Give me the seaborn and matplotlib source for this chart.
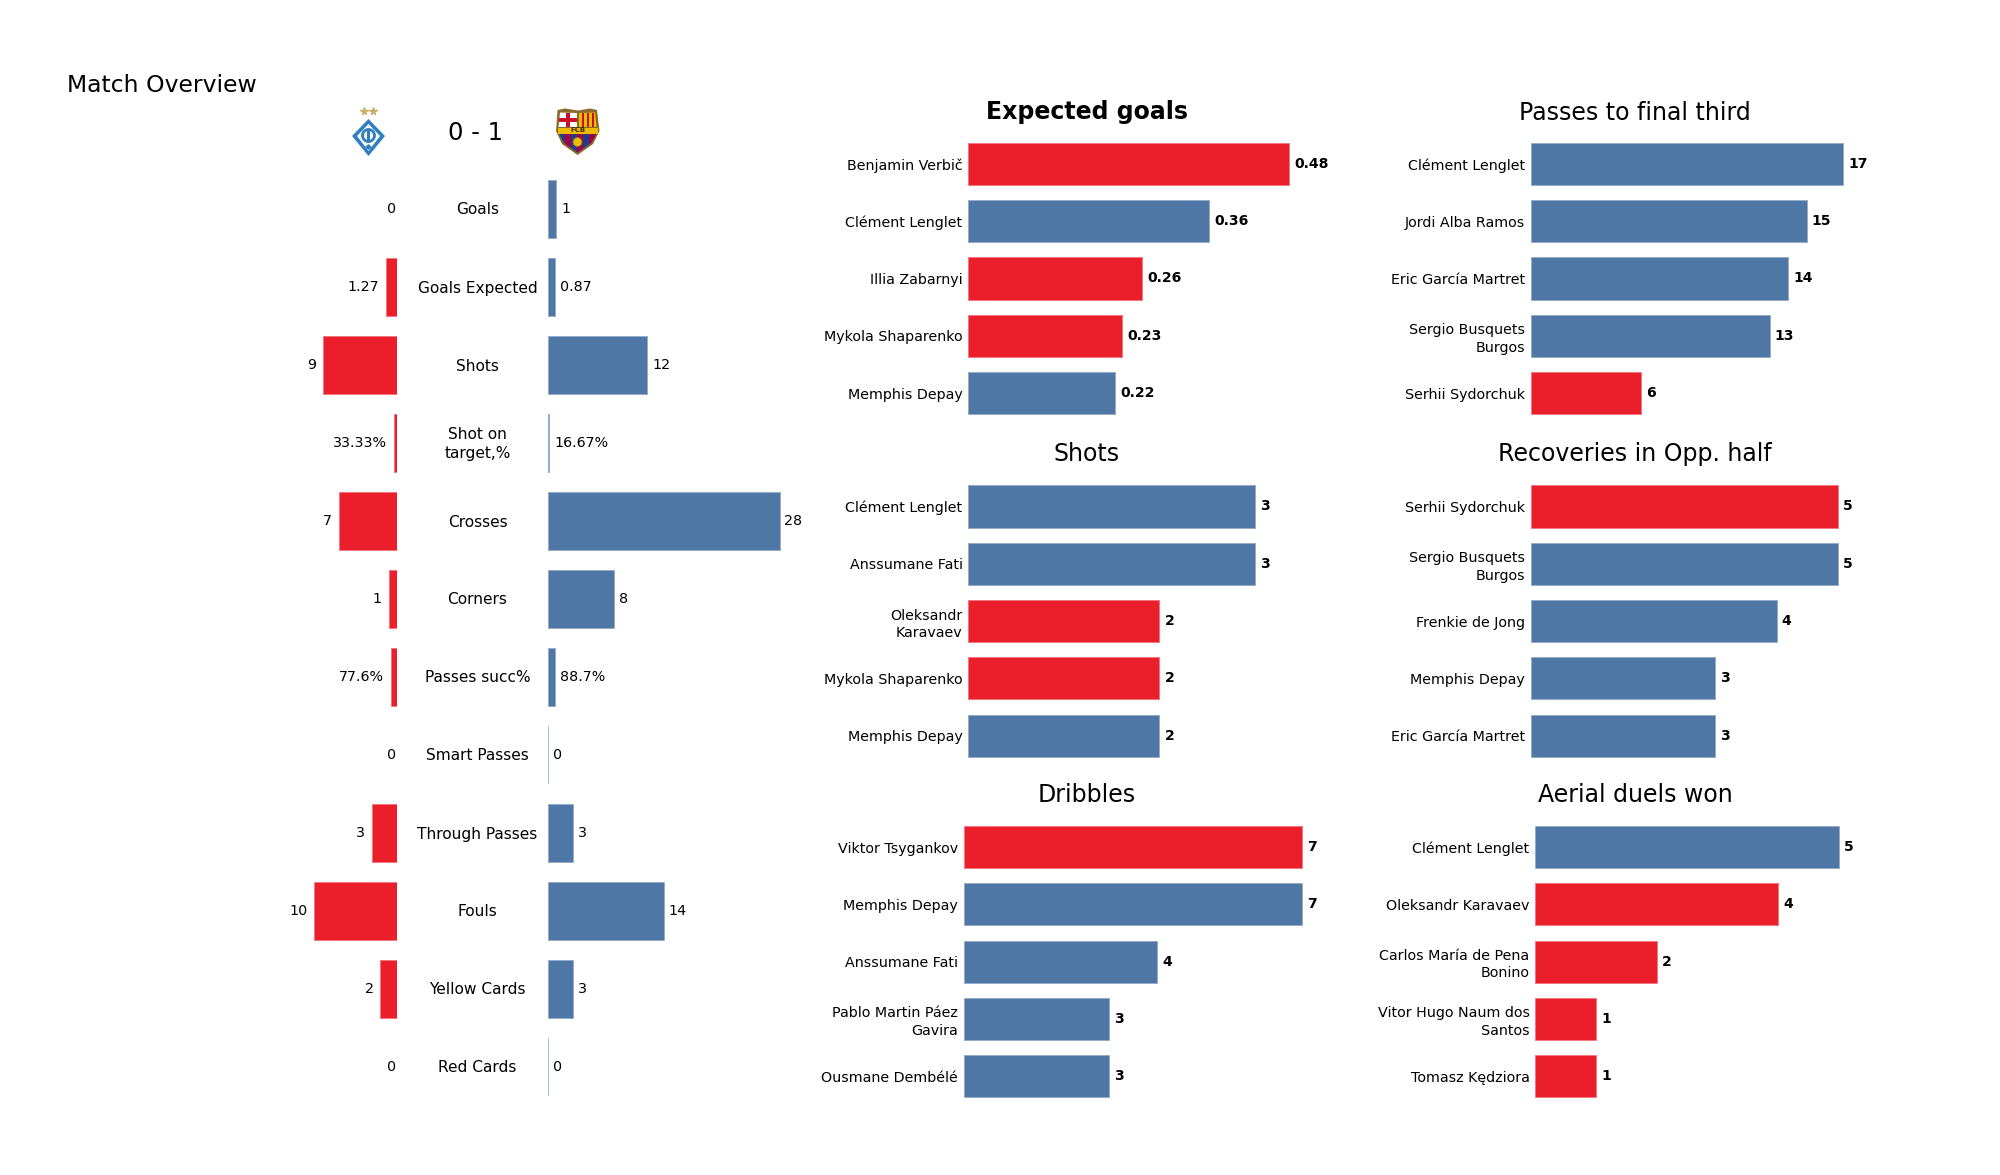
import matplotlib
matplotlib.use('Agg')
import matplotlib.pyplot as plt
import matplotlib.colors as mcolors
from matplotlib.patches import Polygon, Circle, Rectangle
import pandas as pd
import seaborn as sns

RED = '#EB1E2C'
BLUE = '#4E77A5'
W, H = 2000, 1175

# Match overview table
stat_names = ['Goals', 'Goals Expected', 'Shots', 'Shot on\ntarget,%', 'Crosses', 'Corners',
              'Passes succ%', 'Smart Passes', 'Through Passes', 'Fouls', 'Yellow Cards', 'Red Cards']
home_values = [0, 1.27, 9, 0.3333, 7, 1, 0.776, 0, 3, 10, 2, 0]
away_values = [1, 0.87, 12, 0.1667, 28, 8, 0.887, 0, 3, 14, 3, 0]
home_labels = ['0', '1.27', '9', '33.33%', '7', '1', '77.6%', '0', '3', '10', '2', '0']
away_labels = ['1', '0.87', '12', '16.67%', '28', '8', '88.7%', '0', '3', '14', '3', '0']

# Player panels
xg_names = ['Benjamin Verbič', 'Clément Lenglet', 'Illia Zabarnyi', 'Mykola Shaparenko', 'Memphis Depay']
xg_values = [0.48, 0.36, 0.26, 0.23, 0.22]
xg_teams = ['h', 'a', 'h', 'h', 'a']

shots_names = ['Clément Lenglet', 'Anssumane Fati', 'Oleksandr\nKaravaev', 'Mykola Shaparenko', 'Memphis Depay']
shots_values = [3, 3, 2, 2, 2]
shots_teams = ['a', 'a', 'h', 'h', 'a']

dribbles_names = ['Viktor Tsygankov', 'Memphis Depay', 'Anssumane Fati', 'Pablo Martin Páez\nGavira', 'Ousmane Dembélé']
dribbles_values = [7, 7, 4, 3, 3]
dribbles_teams = ['h', 'a', 'a', 'a', 'a']

passes_names = ['Clément Lenglet', 'Jordi Alba Ramos', 'Eric García Martret', 'Sergio Busquets\nBurgos', 'Serhii Sydorchuk']
passes_values = [17, 15, 14, 13, 6]
passes_teams = ['a', 'a', 'a', 'a', 'h']

recov_names = ['Serhii Sydorchuk', 'Sergio Busquets\nBurgos', 'Frenkie de Jong', 'Memphis Depay', 'Eric García Martret']
recov_values = [5, 5, 4, 3, 3]
recov_teams = ['h', 'a', 'a', 'a', 'a']

aerial_names = ['Clément Lenglet', 'Oleksandr Karavaev', 'Carlos María de Pena\nBonino', 'Vitor Hugo Naum dos\nSantos', 'Tomasz Kędziora']
aerial_values = [5, 4, 2, 1, 1]
aerial_teams = ['a', 'h', 'h', 'h', 'h']

sns.set_theme(style='white', rc={'text.color': 'black', 'axes.labelcolor': 'black',
                                 'xtick.color': 'black', 'ytick.color': 'black'})
plt.rcParams['font.family'] = ['DejaVu Sans']

fig = plt.figure(figsize=(20, 11.75), dpi=100)
palette = {'h': RED, 'a': BLUE}


def axes_px(left, top, width, height):
    return fig.add_axes([left / W, 1 - (top + height) / H, width / W, height / H])


def text_px(x, y, s, **kw):
    fig.text(x / W, 1 - y / H, s, va='center', **kw)


def soften_edges(ax, hide_zero=False):
    for p in ax.patches:
        c = mcolors.to_rgb(p.get_facecolor())
        p.set_edgecolor([0.6 * v + 0.4 for v in c])
        p.set_linewidth(0 if hide_zero and p.get_width() == 0 else 0.7)


def clean(ax):
    sns.despine(ax=ax, left=True, bottom=True)
    ax.set_xlabel('')
    ax.set_ylabel('')
    ax.set_xticks([])


def player_panel(names, values, teams, title, bold, left, top, scale, title_x, title_y, fmt):
    ax = axes_px(left, top, 420, 286.5)
    df = pd.DataFrame({'name': names, 'value': values, 'team': teams})
    sns.barplot(data=df, y='name', x='value', hue='team', palette=palette, dodge=False,
                width=0.735, saturation=1, legend=False, ax=ax)
    ax.set_xlim(0, 420 / scale)
    ax.set_ylim(4.5, -0.5)
    clean(ax)
    ax.tick_params(axis='y', length=0, pad=4.2, labelsize=10.3)
    for lab in ax.get_yticklabels():
        lab.set_linespacing(1.3)
    soften_edges(ax)
    for i, v in enumerate(values):
        ax.annotate(fmt.format(v), (v, i), xytext=(3.6, 0), textcoords='offset points',
                    va='center', ha='left', fontsize=10.1, fontweight='bold')
    text_px(title_x, title_y, title, ha='center', fontsize=17,
            fontweight='bold' if bold else 'normal')


# Overview, mirrored bars either side of the stat names
ov_top, ov_height = 170, 936
px_per_unit = 8.27
ax_home = axes_px(97, ov_top, 300, ov_height)
ax_away = axes_px(548, ov_top, 300, ov_height)
ov = pd.DataFrame({'stat': stat_names, 'home': home_values, 'away': away_values})
sns.barplot(data=ov, y='stat', x='home', color=RED, width=0.744, saturation=1, ax=ax_home)
sns.barplot(data=ov, y='stat', x='away', color=BLUE, width=0.744, saturation=1, ax=ax_away)
ax_home.set_xlim(300 / px_per_unit, 0)
ax_away.set_xlim(0, 300 / px_per_unit)
for ax in (ax_home, ax_away):
    ax.set_ylim(11.5, -0.5)
    clean(ax)
    ax.set_yticks([])
soften_edges(ax_home, hide_zero=True)
soften_edges(ax_away)
for p in ax_away.patches:
    if p.get_width() == 0:
        p.set_edgecolor('#9AA9BF')
        p.set_linewidth(1.1)

for i, name in enumerate(stat_names):
    y_row = 210 + 78 * i
    text_px(477.5, y_row, name, ha='center', fontsize=11.1, multialignment='center',
            linespacing=1.3)
    home_off = 5 if home_values[i] > 0 else 0.6
    ax_home.annotate(home_labels[i], (home_values[i], i), xytext=(-home_off, 0),
                     textcoords='offset points', ha='right', va='center', fontsize=10.3)
    ax_away.annotate(away_labels[i], (away_values[i], i), xytext=(3.4, 0),
                     textcoords='offset points', ha='left', va='center', fontsize=10.3)

text_px(67, 85, 'Match Overview', ha='left', fontsize=16.9)
text_px(476, 132.5, '0 - 1', ha='center', fontsize=17.5)

player_panel(xg_names, xg_values, xg_teams, 'Expected goals', True, 968.4, 135.2, 668, 1087, 112.5, '{:.2f}')
player_panel(shots_names, shots_values, shots_teams, 'Shots', False, 968.4, 477.8, 95.5, 1087, 454, '{}')
player_panel(dribbles_names, dribbles_values, dribbles_teams, 'Dribbles', False, 963.6, 818.4, 48.4, 1087, 795, '{}')
player_panel(passes_names, passes_values, passes_teams, 'Passes to final third', False, 1530.6, 135.2, 18.4, 1635, 112.5, '{}')
player_panel(recov_names, recov_values, recov_teams, 'Recoveries in Opp. half', False, 1530.6, 477.8, 61.5, 1635, 454, '{}')
player_panel(aerial_names, aerial_values, aerial_teams, 'Aerial duels won', False, 1535.4, 818.4, 60.7, 1635, 795, '{}')

# Club crests, roughly drawn in pixel space
logo = fig.add_axes([0, 0, 1, 1], facecolor='none')
logo.set_xlim(0, W)
logo.set_ylim(H, 0)
logo.axis('off')

# Dynamo
logo.plot([364, 373], [111, 111], ls='', marker='*', ms=5.5, color='#C9AE63')
logo.add_patch(Polygon([(368.5, 119), (385, 136), (368.5, 156), (352, 136)], fc='#2F7FC1', ec='none'))
logo.add_patch(Polygon([(368.5, 124), (380, 136), (368.5, 151), (357, 136)], fc='white', ec='none'))
logo.add_patch(Circle((368.5, 135.5), 6, fc='none', ec='#2F7FC1', lw=2.0))
logo.add_patch(Rectangle((367, 129), 2.6, 14, fc='#2F7FC1', ec='none'))
logo.add_patch(Polygon([(368.5, 144), (372, 147), (368.5, 150), (365, 147)], fc='#2F7FC1', ec='none'))

# Barcelona
outline = [(557.5, 110), (565, 108.5), (578, 110.5), (590, 108.5), (597, 110), (599.5, 131), (593, 144), (577.5, 155), (562, 144), (556, 131)]
logo.add_patch(Polygon(outline, fc='#8A6A2A', ec='none'))
logo.add_patch(Polygon([(560, 112.5), (577, 113), (577, 127), (558.5, 127)], fc='white', ec='none'))
logo.add_patch(Rectangle((565.5, 113), 4, 14, fc='#C8102E', ec='none'))
logo.add_patch(Rectangle((559, 118), 18, 4, fc='#C8102E', ec='none'))
logo.add_patch(Polygon([(579, 113), (595, 112.5), (596.5, 127), (579, 127)], fc='#EDBB00', ec='none'))
for xs in (581.5, 586.5, 591.5):
    logo.add_patch(Rectangle((xs, 113), 2.6, 14, fc='#C8102E', ec='none'))
logo.add_patch(Polygon([(558, 127.5), (597.5, 127.5), (597.5, 133.5), (558, 133.5)], fc='#EDBB00', ec='none'))
logo.text(577.5, 130.5, 'FCB', fontsize=5, fontweight='bold', ha='center', va='center', color='#3A2A10')
crest = Polygon([(559, 134), (596.5, 134), (591, 143), (577.5, 152.5), (564, 143)], fc='#1D3F8B', ec='none')
logo.add_patch(crest)
for xs in (565, 577, 589):
    band = Rectangle((xs, 134), 6, 20, fc='#A50044', ec='none')
    logo.add_patch(band)
    band.set_clip_path(crest)
logo.add_patch(Circle((577.5, 142), 4.5, fc='#EDBB00', ec='#8A6A2A', lw=0.5))

fig.savefig('out.png', dpi=100)
